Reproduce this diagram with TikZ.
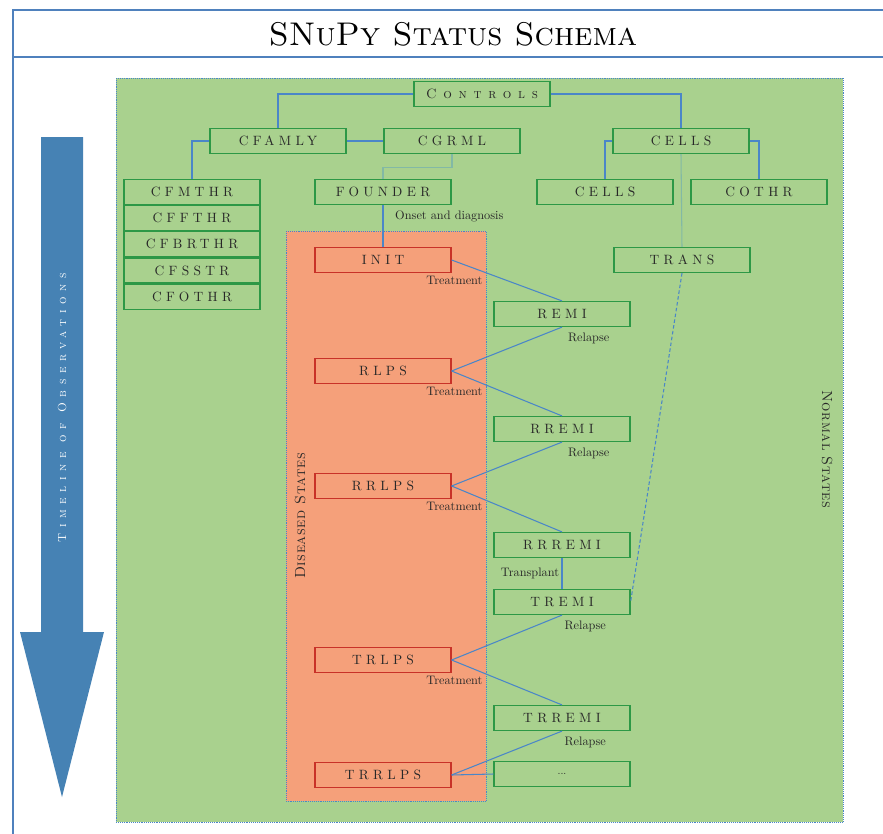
\documentclass[tikz,border=0pt]{standalone}
\usepackage{fontspec}
\setmainfont{lmroman10-regular}[Extension=.otf]
\newfontfamily\boxfont{lmroman10-regular}[Extension=.otf, LetterSpace=32]
\newfontfamily\scfont{lmromancaps10-regular}[Extension=.otf]
\usetikzlibrary{positioning}
\definecolor{normalfill}{RGB}{169,209,142}
\definecolor{sickfill}{RGB}{245,160,122}
\definecolor{boxgreen}{RGB}{45,152,70}
\definecolor{sickred}{RGB}{200,50,40}
\definecolor{linkblue}{RGB}{74,134,200}
\definecolor{palegreen}{RGB}{130,185,165}
\definecolor{steel}{RGB}{70,130,180}
\definecolor{framblue}{RGB}{79,129,189}
\definecolor{ink}{RGB}{40,40,40}

\begin{document}
\begin{tikzpicture}[x=0.03cm, y=-0.03cm,
    state/.style={draw=boxgreen, line width=1pt, minimum width=4.08cm, minimum height=0.75cm,
      inner sep=0pt, text=ink, font=\boxfont\fontsize{11.5}{13}\selectfont},
    sick/.style={state, draw=sickred},
    link/.style={draw=linkblue, line width=0.9pt},
    pale/.style={draw=palegreen, line width=0.9pt},
    note/.style={text=ink, font=\fontsize{10.5}{12}\selectfont, inner sep=2pt},
    zone/.style={draw=linkblue, densely dotted, line width=0.6pt},
    frame/.style={draw=framblue, line width=1.6pt},
    label distance=2.5pt]
    \useasboundingbox (0,0) rectangle (883,834);
    \draw[frame] (883,10) -- (13,10) -- (13,834);
    \draw[frame] (13,57) -- (883,57);
    \node (title) at (453,34) {\scfont\fontsize{28}{32}\selectfont SNuPy Status Schema};

    \fill[steel] (41,137) -- (83,137) -- (83,632) -- (104,632) -- (62,797) -- (20,632) -- (41,632) -- cycle;
    \node[rotate=90, text=white] (timeline) at (62,408)
        {\scfont\fontsize{10}{11}\selectfont\addfontfeature{LetterSpace=48}Timeline of Observations};

    \filldraw[zone, fill=normalfill] (116,78) rectangle (843,822);
    \filldraw[zone, fill=sickfill] (286,231) rectangle (486,801);
    \node[rotate=90, text=ink] (sicklabel) at (300,516)
        {\scfont\fontsize{12.5}{14}\selectfont\addfontfeature{LetterSpace=4}Diseased States};
    \node[rotate=-90, text=ink] (normallabel) at (827,449)
        {\scfont\fontsize{12.5}{14}\selectfont\addfontfeature{LetterSpace=4}Normal States};

    \node[state, font=\scfont\fontsize{11.5}{13}\selectfont\addfontfeature{LetterSpace=50}] (controls) at (482,94) {Controls};
    \node[state] (cfamly) at (278,141) {CFAMLY};
    \node[state] (cgrml) at (452,141) {CGRML};
    \node[state] (cells) at (681,141) {CELLS};
    \node[state] (cfmthr) at (192,192) {CFMTHR};
    \node[state] (cffthr) [below=0pt of cfmthr] {CFFTHR};
    \node[state] (cfbrthr) [below=0pt of cffthr] {CFBRTHR};
    \node[state] (cfsstr) [below=0pt of cfbrthr] {CFSSTR};
    \node[state] (cfothr) [below=0pt of cfsstr] {CFOTHR};
    \node[state] (founder) at (383,192) {FOUNDER};
    \node[state] (cellsb) at (605,192) {CELLS};
    \node[state] (cothr) at (759,192) {COTHR};
    \node[state] (trans) at (682,260) {TRANS};

    \node[sick, label={[note, anchor=north]south east:Treatment}] (init) at (383,260) {INIT};
    \node[state, label={[note, anchor=north west, xshift=3pt]south:Relapse}] (remi) at (562,314) {REMI};
    \node[sick, label={[note, anchor=north]south east:Treatment}] (rlps) at (383,371) {RLPS};
    \node[state, label={[note, anchor=north west, xshift=3pt]south:Relapse}] (rremi) at (562,429) {RREMI};
    \node[sick, label={[note, anchor=north]south east:Treatment}] (rrlps) at (383,486) {RRLPS};
    \node[state] (rrremi) at (562,545) {RRREMI};
    \node[state, label={[note, anchor=north west]south:Relapse}] (tremi) at (562,602) {TREMI};
    \node[sick, label={[note, anchor=north]south east:Treatment}] (trlps) at (383,660) {TRLPS};
    \node[state, label={[note, anchor=north west]south:Relapse}] (trremi) at (562,718) {TRREMI};
    \node[sick] (trrlps) at (383,775) {TRRLPS};
    \node[state, font=\fontsize{9}{10}\selectfont] (more) at (562,774) {...};

    \draw[link] (controls.west) -| (cfamly.north);
    \draw[link] (controls.east) -| (cells.north);
    \draw[link] (cfamly) -- (cgrml);
    \draw[link] (cfamly.west) -| (cfmthr.north);
    \draw[pale] (cgrml.south) -- ++(0,13) -| (founder.north);
    \draw[link] (cells.west) -| (cellsb.north);
    \draw[link] (cells.east) -| (cothr.north);
    \draw[pale] (cells.south) -- (trans.north);
    \draw[link, densely dashed] (trans.south) -- (tremi.east);
    \draw[link] (founder) -- node[note, right, pos=0.28, xshift=8pt] {Onset and diagnosis} (init);
    \draw[link] (init.east) -- (remi.north);
    \draw[link] (remi.south) -- (rlps.east);
    \draw[link] (rlps.east) -- (rremi.north);
    \draw[link] (rremi.south) -- (rrlps.east);
    \draw[link] (rrlps.east) -- (rrremi.north);
    \draw[link] (rrremi) -- node[note, left] {Transplant} (tremi);
    \draw[link] (tremi.south) -- (trlps.east);
    \draw[link] (trlps.east) -- (trremi.north);
    \draw[link] (trremi.south) -- (trrlps.east);
    \draw[link] (trrlps.east) -- (more.west);
\end{tikzpicture}
\end{document}
